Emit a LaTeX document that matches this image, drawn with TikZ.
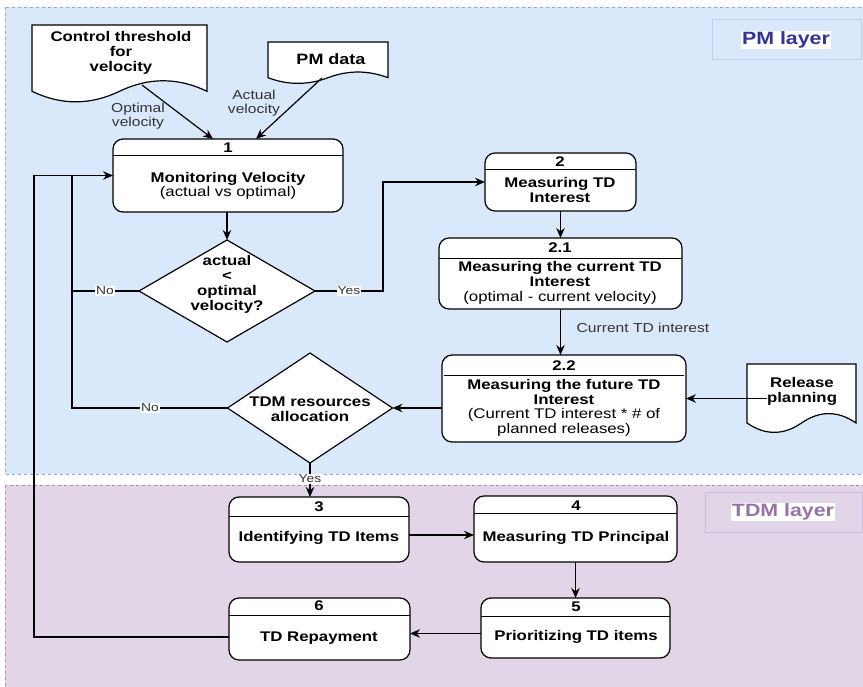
\documentclass[tikz,border=0pt]{standalone}
\usepackage{fontspec}
\setmainfont[FakeStretch=1.2]{Liberation Sans}
\usetikzlibrary{shapes.geometric,arrows.meta,calc}
\definecolor{pmfill}{HTML}{DAE8FC}
\definecolor{pmline}{HTML}{8EA9D4}
\definecolor{pmlabel}{HTML}{333399}
\definecolor{tdmfill}{HTML}{E1D5E7}
\definecolor{tdmline}{HTML}{A68CB6}
\definecolor{tdmlabel}{HTML}{9673A6}
\definecolor{lbltext}{HTML}{333333}
\newcommand\docshape[4]{%
  \pgfmathsetmacro\dsW{#2-#1}%
  \pgfmathsetmacro\dsDy{0.3*#4}%
  \pgfmathsetmacro\dsYs{#3+#4-\dsDy/2}%
  \pgfmathsetmacro\dsXm{(#1+#2)/2}%
  \pgfmathsetmacro\dsYu{\dsYs-0.6*\dsDy}%
  \pgfmathsetmacro\dsYd{\dsYs+0.6*\dsDy}%
  \pgfmathsetmacro\dsAa{#2-\dsW/6}%
  \pgfmathsetmacro\dsAb{\dsXm+\dsW/6}%
  \pgfmathsetmacro\dsBa{\dsXm-\dsW/6}%
  \pgfmathsetmacro\dsBb{#1+\dsW/6}%
  \draw[docst] (#1,#3) -- (#2,#3) -- (#2,\dsYs)
    .. controls (\dsAa,\dsYu) and (\dsAb,\dsYu) .. (\dsXm,\dsYs)
    .. controls (\dsBa,\dsYd) and (\dsBb,\dsYd) .. (#1,\dsYs) -- cycle;%
}
\begin{document}
\begin{tikzpicture}[x=1pt,y=-1pt,
  proc/.style={draw=black,fill=white,line width=1.2pt,rounded corners=10pt,
    rectangle,inner sep=0pt,outer sep=0pt,anchor=north west},
  hdr/.style={draw=black,line width=1pt},
  dec/.style={draw=black,fill=white,line width=1.2pt,diamond,inner sep=0pt,outer sep=0pt},
  docst/.style={draw=black,fill=white,line width=1.2pt},
  arr/.style={draw=black,line width=1.2pt,-{Stealth[length=10pt,width=8.5pt]}},
  ln/.style={draw=black,line width=1.2pt},
  btxt/.style={font=\fontsize{14}{15}\selectfont\bfseries,align=center,inner sep=0pt},
  mix/.style={font=\fontsize{14}{14.7}\selectfont,align=center,inner sep=0pt},
  elbl/.style={font=\fontsize{13}{14.5}\selectfont,text=lbltext,align=center,inner sep=0pt},
  yn/.style={font=\fontsize{11.5}{12}\selectfont,text=lbltext,fill=white,inner sep=1pt}
]
\useasboundingbox (0,0) rectangle (863,687);
\fill[white] (0,0) rectangle (863,687);
% layers
\draw[fill=pmfill,draw=pmline,dashed,line width=0.8pt] (5,7) rectangle (863,474);
\draw[fill=tdmfill,draw=tdmline,dashed,line width=0.8pt] (5,485) rectangle (863,690);
\draw[fill=pmfill,draw=pmline!40!pmfill,line width=0.8pt] (712,19) rectangle (861,59);
\node[fill=white,text=pmlabel,font=\fontsize{17.8}{19}\selectfont\bfseries,inner sep=1pt] (pml) at (786,40) {PM layer};
\draw[fill=tdmfill,draw=tdmline!35!tdmfill,line width=0.8pt] (705,492) rectangle (862,532);
\node[fill=white,text=tdmlabel,font=\fontsize{17.8}{19}\selectfont\bfseries,inner sep=1pt] (tdml) at (783,512) {TDM layer};

% documents
\docshape{32}{207}{25}{78}
\node[btxt] (ctl) at (121,53) {Control threshold\\for\\velocity};
\coordinate (ctlout) at (142,85);
\docshape{268}{388}{42}{42}
\node[btxt,font=\fontsize{15}{16}\selectfont\bfseries] (pmd) at (331,59) {PM data};
\coordinate (pmdout) at (322,78);
\docshape{747}{856}{364}{69.4}
\node[btxt] (rel) at (802,391) {Release\\planning};

% process boxes
\node[proc,minimum width=230pt,minimum height=73pt] (b1) at (113,139) {};
\draw[hdr] (113,156) -- (343,156);
\node[btxt] at (228,148) {1};
\node[mix] at (228,186) {\textbf{Monitoring Velocity}\\(actual vs optimal)};

\node[proc,minimum width=151pt,minimum height=58pt] (b2) at (485,153) {};
\draw[hdr] (485,170) -- (636,170);
\node[btxt] at (560,162) {2};
\node[btxt] at (560,190) {Measuring TD\\Interest};

\node[proc,minimum width=243pt,minimum height=71pt] (b21) at (439,238) {};
\draw[hdr] (439,259) -- (682,259);
\node[btxt] at (560,248) {2.1};
\node[mix] at (560,283) {\textbf{Measuring the current TD}\\\textbf{Interest}\\(optimal - current velocity)};

\node[proc,minimum width=244pt,minimum height=87pt] (b22) at (442,355) {};
\draw[hdr] (444,375) -- (684,375);
\node[btxt] at (564,366) {2.2};
\node[mix] at (564,408) {\textbf{Measuring the future TD}\\\textbf{Interest}\\(Current TD interest * \# of\\planned releases)};

\node[proc,minimum width=180pt,minimum height=65pt] (b3) at (229,497) {};
\draw[hdr] (229,516) -- (409,516);
\node[btxt] at (319,507) {3};
\node[btxt] at (319,538) {Identifying TD Items};

\node[proc,minimum width=203pt,minimum height=66pt] (b4) at (474,496) {};
\draw[hdr] (474,513) -- (677,513);
\node[btxt] at (576,506) {4};
\node[btxt] at (576,538) {Measuring TD Principal};

\node[proc,minimum width=189pt,minimum height=60pt] (b5) at (481,598) {};
\draw[hdr] (481,616) -- (670,616);
\node[btxt] at (576,607) {5};
\node[btxt] at (576,637) {Prioritizing TD items};

\node[proc,minimum width=181pt,minimum height=62pt] (b6) at (229,598) {};
\draw[hdr] (229,615) -- (410,615);
\node[btxt] at (319,606) {6};
\node[btxt] at (319,638) {TD Repayment};

% decisions
\node[dec,minimum width=176pt,minimum height=102pt] (d1) at (227,291) {};
\node[btxt] at (227,284) {actual\\<\\optimal\\velocity?};
\node[dec,minimum width=165pt,minimum height=110pt] (d2) at (310,408) {};
\node[btxt] at (310,409) {TDM resources\\allocation};

% connectors
\coordinate (b1inA) at ($(b1.north west)+(100,0)$);
\coordinate (b1inB) at ($(b1.north west)+(143,0)$);
\draw[arr] (ctlout) -- (b1inA);
\draw[arr] (pmdout) -- (b1inB);
\node[elbl] at (138,116) {Optimal\\velocity};
\node[elbl] at (254,103) {Actual\\velocity};

\draw[arr] (b1.south -| d1.north) -- (d1.north);
\coordinate (j1) at ($(b1.west)+(-41,0)$);
\coordinate (j0) at ($(b1.west)+(-79,0)$);
\draw[arr] (d1.west) -- (d1.west -| j1) -- (j1) -- (b1.west);
\node[yn] at (105,291) {No};
\coordinate (yesx) at ($(d1.east)+(68,0)$);
\draw[arr] (d1.east) -- (yesx) -- (yesx |- b2.west) -- (b2.west);
\node[yn] at (349,291) {Yes};

\draw[arr] (b2.south) -- (b2.south |- b21.north);
\draw[arr] (b21.south) -- (b21.south |- b22.north);
\node[elbl] at (643,328) {Current TD interest};
\draw[arr] (rel.west |- b22.east) -- (b22.east);
\draw[arr] (d2.east -| b22.west) -- (d2.east);

\draw[ln] (d2.west) -- (d2.west -| j1) -- (d1.west -| j1);
\node[yn] at (150,408) {No};
\draw[arr] (d2.south) -- (d2.south |- b3.north);
\node[yn] at (310,479) {Yes};

\coordinate (b34) at ($(b3.east)+(0,5.5)$);
\draw[arr] (b34) -- (b34 -| b4.west);
\coordinate (b56) at ($(b5.west)+(0,5.5)$);
\draw[arr] (b4.south) -- (b4.south |- b5.north);
\draw[arr] (b56) -- (b56 -| b6.east);
\coordinate (b6o) at ($(b6.west)+(0,8)$);
\draw[ln] (b6o) -- (b6o -| j0) -- (j0) -- (j1);
\end{tikzpicture}
\end{document}
